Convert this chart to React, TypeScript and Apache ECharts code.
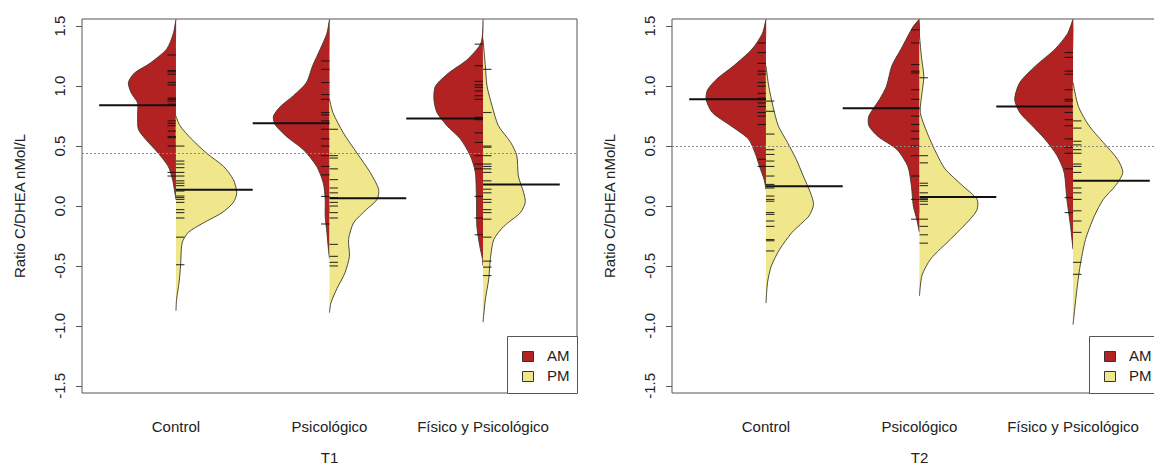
import React, { useEffect, useRef } from "react";
import * as echarts from "echarts";

// ---------- data ----------
const CATEGORIES = ["Control", "Psicológico", "Físico y Psicológico"];
const Y_TICKS = [-1.5, -1, -0.5, 0, 0.5, 1, 1.5];
const PANEL_TITLES = ["T1", "T2"];
const Y_TITLE = "Ratio C/DHEA nMol/L";
const OVERALL_MEAN = [0.44, 0.5];

// density outlines: [value, half-width (category units)]
const T1_CONTROL_AM = [[1.556,0],[1.44,0.017],[1.31,0.06],[1.19,0.17],[1.11,0.27],[1.03,0.31],[0.94,0.29],[0.86,0.25],[0.75,0.25],[0.64,0.245],[0.56,0.2],[0.44,0.115],[0.33,0.05],[0.22,0.022],[0.11,0.007],[0.055,0]];
const T1_CONTROL_PM = [[0.75,0],[0.67,0.026],[0.56,0.1],[0.44,0.2],[0.33,0.31],[0.22,0.374],[0.11,0.396],[0.03,0.374],[-0.056,0.3],[-0.14,0.18],[-0.22,0.08],[-0.31,0.04],[-0.5,0.03],[-0.64,0.02],[-0.78,0.004],[-0.875,0]];
const T1_PSI_AM = [[1.556,0],[1.44,0.017],[1.31,0.06],[1.17,0.11],[1.03,0.15],[0.92,0.235],[0.83,0.32],[0.75,0.365],[0.68,0.355],[0.58,0.28],[0.47,0.17],[0.33,0.083],[0.19,0.04],[0.055,0.028],[-0.083,0.028],[-0.22,0.017],[-0.36,0.007],[-0.44,0]];
const T1_PSI_PM = [[0.89,0],[0.78,0.022],[0.61,0.09],[0.44,0.18],[0.28,0.265],[0.14,0.32],[0.055,0.31],[-0.03,0.24],[-0.14,0.157],[-0.28,0.124],[-0.42,0.13],[-0.56,0.1],[-0.69,0.048],[-0.81,0.009],[-0.89,0]];
const T1_FIS_AM = [[1.556,0],[1.36,0.013],[1.22,0.104],[1.11,0.224],[1.0,0.31],[0.89,0.32],[0.78,0.3],[0.67,0.235],[0.56,0.148],[0.42,0.083],[0.28,0.05],[0.055,0.043],[-0.17,0.04],[-0.33,0.022],[-0.44,0.004],[-0.5,0]];
const T1_FIS_PM = [[1.39,0],[1.17,0.015],[1.0,0.026],[0.83,0.06],[0.67,0.1],[0.53,0.18],[0.42,0.22],[0.25,0.23],[0.11,0.265],[0.03,0.275],[-0.056,0.243],[-0.17,0.135],[-0.28,0.07],[-0.44,0.048],[-0.61,0.037],[-0.78,0.015],[-0.97,0]];

const T2_CONTROL_AM = [[1.556,0],[1.44,0.023],[1.31,0.09],[1.17,0.21],[1.06,0.32],[0.97,0.38],[0.89,0.39],[0.78,0.35],[0.67,0.23],[0.56,0.115],[0.44,0.07],[0.33,0.042],[0.22,0.012],[0.14,0]];
const T2_CONTROL_PM = [[1.17,0],[1.0,0.018],[0.83,0.046],[0.67,0.08],[0.53,0.14],[0.39,0.197],[0.25,0.243],[0.11,0.29],[0.014,0.31],[-0.083,0.28],[-0.22,0.17],[-0.36,0.09],[-0.5,0.035],[-0.64,0.01],[-0.81,0]];
const T2_PSI_AM = [[1.556,0],[1.5,0.04],[1.31,0.12],[1.17,0.18],[1.0,0.215],[0.89,0.26],[0.75,0.33],[0.67,0.33],[0.58,0.27],[0.47,0.146],[0.33,0.076],[0.17,0.053],[0.0,0.04],[-0.11,0.018],[-0.22,0]];
const T2_PSI_PM = [[1.42,0],[1.25,0.012],[1.08,0.028],[0.94,0.016],[0.78,0.005],[0.61,0.05],[0.44,0.11],[0.31,0.166],[0.17,0.28],[0.055,0.375],[-0.03,0.375],[-0.11,0.33],[-0.28,0.2],[-0.44,0.074],[-0.58,0.016],[-0.75,0]];
const T2_FIS_AM = [[1.556,0],[1.44,0.035],[1.31,0.116],[1.17,0.243],[1.03,0.347],[0.89,0.38],[0.78,0.347],[0.67,0.266],[0.56,0.185],[0.42,0.104],[0.28,0.058],[0.055,0.04],[-0.17,0.016],[-0.36,0]];
const T2_FIS_PM = [[1.03,0],[0.83,0.035],[0.67,0.104],[0.53,0.197],[0.39,0.29],[0.28,0.324],[0.17,0.277],[0.055,0.197],[-0.083,0.139],[-0.28,0.081],[-0.5,0.046],[-0.72,0.023],[-0.99,0]];

// individual observations
const T1_CONTROL_AM_OBS = [1.26,1.13,1.12,1.10,1.03,1.01,0.90,0.89,0.875,0.85,0.71,0.69,0.67,0.625,0.58,0.57,0.50,0.28,0.25];
const T1_CONTROL_PM_OBS = [0.50,0.375,0.35,0.32,0.28,0.25,0.21,0.19,0.17,0.125,0.083,0.07,0.055,0.03,-0.03,-0.055,-0.1,-0.26,-0.49];
const T1_PSI_AM_OBS = [1.21,1.14,1.03,0.93,0.89,0.78,0.76,0.71,0.64,0.56,0.50,0.42,0.33,0.26,0.08,-0.15];
const T1_PSI_PM_OBS = [0.64,0.42,0.40,0.31,0.22,0.15,0.11,0.07,0.03,0.0,-0.055,-0.1,-0.32,-0.42,-0.47,-0.5];
const T1_FIS_AM_OBS = [1.35,1.17,1.04,1.01,0.99,0.96,0.92,0.89,0.74,0.72,0.61,0.53,0.42,0.35,0.31,0.08,-0.1,-0.24];
const T1_FIS_PM_OBS = [1.14,0.78,0.5,0.49,0.42,0.35,0.33,0.31,0.28,0.21,0.14,0.11,0.055,0.03,-0.03,-0.055,-0.11,-0.26,-0.46,-0.51,-0.58];
const T2_CONTROL_AM_OBS = [1.36,1.28,1.19,1.125,1.10,1.03,1.0,0.94,0.90,0.86,0.83,0.78,0.75,0.68,0.39,0.33];
const T2_CONTROL_PM_OBS = [0.875,0.79,0.6,0.47,0.43,0.375,0.33,0.25,0.18,0.15,0.083,0.055,0.04,-0.055,-0.07,-0.125,-0.17,-0.28,-0.29,-0.375];
const T2_PSI_AM_OBS = [1.47,1.36,1.18,1.125,1.11,0.97,0.89,0.75,0.68,0.625,0.56,0.5,0.42,0.25,0.055,-0.11];
const T2_PSI_PM_OBS = [1.07,0.42,0.36,0.19,0.17,0.11,0.06,0.055,0.04,0.014,-0.11,-0.17,-0.24,-0.31];
const T2_FIS_AM_OBS = [1.28,1.24,1.125,1.10,0.97,0.89,0.875,0.83,0.78,0.72,0.67,0.56,0.49,0.44,0.31,0.07,-0.055];
const T2_FIS_PM_OBS = [0.71,0.65,0.54,0.51,0.47,0.44,0.35,0.33,0.28,0.15,0.11,0.055,-0.04,-0.125,-0.22,-0.47,-0.57];

// group means
const T1_AM_MEANS = [0.84, 0.69, 0.73];
const T1_PM_MEANS = [0.135, 0.065, 0.18];
const T2_AM_MEANS = [0.89, 0.815, 0.83];
const T2_PM_MEANS = [0.165, 0.075, 0.21];

// ---------- styles ----------
const AM_COLOR = "#B22222";
const PM_COLOR = "#F0E68C";
const BORDER = "#3b3b2b";
const FONT = "'Liberation Sans', Arial, Helvetica, sans-serif";
const TEXT = "#222";
const AXIS_GRAY = "#555";
const X_MIN = 0.388;
const X_MAX = 3.612;
const Y_MIN = -1.56;
const Y_MAX = 1.56;
const RUG_LEN = 0.055;
const MEAN_LEN = 0.5;

const PANELS = [
  { left: 82, legendLeft: 507, am: [T1_CONTROL_AM, T1_PSI_AM, T1_FIS_AM], pm: [T1_CONTROL_PM, T1_PSI_PM, T1_FIS_PM],
    amObs: [T1_CONTROL_AM_OBS, T1_PSI_AM_OBS, T1_FIS_AM_OBS], pmObs: [T1_CONTROL_PM_OBS, T1_PSI_PM_OBS, T1_FIS_PM_OBS],
    amMeans: T1_AM_MEANS, pmMeans: T1_PM_MEANS },
  { left: 672, legendLeft: 1089, am: [T2_CONTROL_AM, T2_PSI_AM, T2_FIS_AM], pm: [T2_CONTROL_PM, T2_PSI_PM, T2_FIS_PM],
    amObs: [T2_CONTROL_AM_OBS, T2_PSI_AM_OBS, T2_FIS_AM_OBS], pmObs: [T2_CONTROL_PM_OBS, T2_PSI_PM_OBS, T2_FIS_PM_OBS],
    amMeans: T2_AM_MEANS, pmMeans: T2_PM_MEANS },
];

function beanSeries(name: string, idx: number, outlines: number[][][], side: number, color: string, withLine: boolean) {
  return {
    type: "custom",
    name,
    xAxisIndex: idx,
    yAxisIndex: idx,
    clip: true,
    silent: true,
    itemStyle: { color },
    data: outlines.map((o, i) => [i + 1, o[0][0]]),
    markLine: withLine
      ? {
          silent: true,
          symbol: "none",
          label: { show: false },
          lineStyle: { color: "#888", type: [2, 2], width: 1 },
          data: [{ yAxis: OVERALL_MEAN[idx] }],
        }
      : undefined,
    renderItem: (params: any, api: any) => {
      const i = params.dataIndex;
      const c = i + 1;
      const o = outlines[i];
      const edge = o.map(([v, w]) => api.coord([c + side * w, v]));
      const top = o[0][0];
      const bot = o[o.length - 1][0];
      const fillPts = edge.slice();
      const steps = 6;
      for (let k = 1; k < steps; k++) {
        const v = bot + ((top - bot) * k) / steps;
        fillPts.push(api.coord([c, v]));
      }
      return {
        type: "group",
        children: [
          { type: "polygon", shape: { points: fillPts, smooth: 0.25 }, style: { fill: color, stroke: null } },
          { type: "polyline", shape: { points: edge, smooth: 0.25 }, style: { fill: null, stroke: BORDER, lineWidth: 0.9 } },
        ],
      };
    },
  };
}

function rugSeries(idx: number, obs: number[][], side: number) {
  const data: number[][] = [];
  obs.forEach((arr, i) => arr.forEach((v) => data.push([i + 1, v])));
  return {
    type: "custom",
    xAxisIndex: idx,
    yAxisIndex: idx,
    silent: true,
    clip: true,
    data,
    renderItem: (params: any, api: any) => {
      const c = api.value(0);
      const v = api.value(1);
      const p1 = api.coord([c, v]);
      const p2 = api.coord([c + side * RUG_LEN, v]);
      return { type: "line", shape: { x1: p1[0], y1: p1[1], x2: p2[0], y2: p2[1] }, style: { stroke: "#111", lineWidth: 1.1, opacity: 0.85 } };
    },
  };
}

function meanSeries(idx: number, means: number[], side: number) {
  return {
    type: "custom",
    xAxisIndex: idx,
    yAxisIndex: idx,
    silent: true,
    data: means.map((m, i) => [i + 1, m]),
    renderItem: (params: any, api: any) => {
      const c = api.value(0);
      const v = api.value(1);
      const p1 = api.coord([c, v]);
      const p2 = api.coord([c + side * MEAN_LEN, v]);
      return { type: "line", shape: { x1: p1[0], y1: p1[1], x2: p2[0], y2: p2[1] }, style: { stroke: "#111", lineWidth: 2 } };
    },
  };
}

function legendGraphic(boxLeft: number) {
  const top = 336;
  return [
    { type: "rect", left: boxLeft, top, shape: { width: 70, height: 57 }, style: { fill: "#fff", stroke: AXIS_GRAY, lineWidth: 1 }, z: 10 },
    { type: "rect", left: boxLeft + 15, top: top + 15, shape: { width: 11, height: 10 }, style: { fill: AM_COLOR, stroke: "#333", lineWidth: 1 }, z: 11 },
    { type: "rect", left: boxLeft + 15, top: top + 35, shape: { width: 11, height: 10 }, style: { fill: PM_COLOR, stroke: "#333", lineWidth: 1 }, z: 11 },
    { type: "text", left: boxLeft + 40, top: top + 12, style: { text: "AM", fontSize: 15, fontFamily: FONT, fill: TEXT }, z: 11 },
    { type: "text", left: boxLeft + 40, top: top + 32, style: { text: "PM", fontSize: 15, fontFamily: FONT, fill: TEXT }, z: 11 },
  ];
}

export default function App() {
  const ref = useRef<HTMLDivElement>(null);
  useEffect(() => {
    if (!ref.current) return;
    const chart = echarts.init(ref.current, null, { renderer: "svg" });
    const grids = PANELS.map((p) => ({
      left: p.left, top: 19, width: 495, height: 374,
      containLabel: false, outerBoundsMode: "none",
      show: true, borderColor: AXIS_GRAY, borderWidth: 1, backgroundColor: "transparent",
    }));
    const xAxes = PANELS.map((p, idx) => ({
      type: "value",
      gridIndex: idx,
      min: X_MIN,
      max: X_MAX,
      name: PANEL_TITLES[idx],
      nameLocation: "middle",
      nameGap: 57,
      nameTextStyle: { fontSize: 15, fontFamily: FONT, color: TEXT },
      axisLine: { show: false },
      splitLine: { show: false },
      axisTick: { show: true, customValues: [1, 2, 3], length: 7, lineStyle: { color: AXIS_GRAY } },
      axisLabel: {
        show: true,
        customValues: [1, 2, 3],
        margin: 26,
        fontSize: 15,
        fontFamily: FONT,
        color: TEXT,
        formatter: (v: number) => CATEGORIES[Math.round(v) - 1] ?? "",
      },
    }));
    const yAxes = PANELS.map((p, idx) => ({
      type: "value",
      gridIndex: idx,
      min: Y_MIN,
      max: Y_MAX,
      name: Y_TITLE,
      nameLocation: "middle",
      nameGap: 55,
      nameTextStyle: { fontSize: 15, fontFamily: FONT, color: TEXT },
      axisLine: { show: false },
      splitLine: { show: false },
      axisTick: { show: true, customValues: Y_TICKS, length: 6, lineStyle: { color: AXIS_GRAY } },
      axisLabel: {
        show: true,
        customValues: Y_TICKS,
        rotate: 90,
        margin: 15,
        fontSize: 15,
        fontFamily: FONT,
        color: TEXT,
        formatter: (v: number) => v.toFixed(1),
      },
    }));
    const series: any[] = [];
    PANELS.forEach((p, idx) => {
      series.push(beanSeries("AM", idx, p.am, -1, AM_COLOR, true));
      series.push(beanSeries("PM", idx, p.pm, 1, PM_COLOR, false));
      series.push(rugSeries(idx, p.amObs, -1));
      series.push(rugSeries(idx, p.pmObs, 1));
      series.push(meanSeries(idx, p.amMeans, -1));
      series.push(meanSeries(idx, p.pmMeans, 1));
    });
    chart.setOption({
      animation: false,
      backgroundColor: "#fff",
      textStyle: { fontFamily: FONT },
      grid: grids,
      xAxis: xAxes,
      yAxis: yAxes,
      series,
      graphic: PANELS.flatMap((p) => legendGraphic(p.legendLeft)),
    });
    return () => chart.dispose();
  }, []);
  return <div ref={ref} style={{ position: "absolute", left: 0, top: 0, width: 1154, height: 468 }} />;
}
